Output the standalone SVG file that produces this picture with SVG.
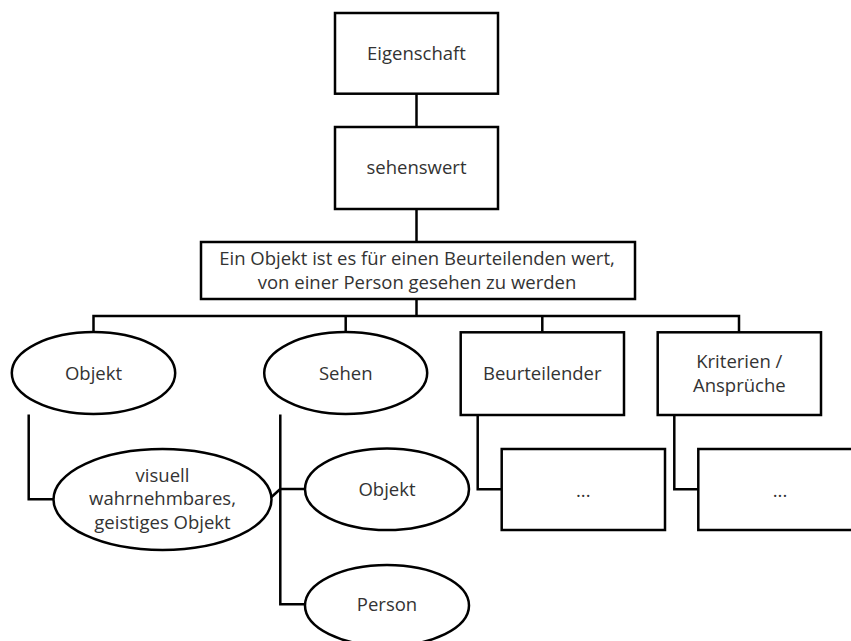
<svg xmlns="http://www.w3.org/2000/svg" width="851" height="641" viewBox="0 0 851 641">
  <style>
    .box { fill: #ffffff; stroke: #000000; stroke-width: 2.5; }
    .link { fill: none; stroke: #000000; stroke-width: 2.5; }
    text { font-family: "Open Sans", "Liberation Sans", Arial, sans-serif; font-size: 18.5px; fill: #333333; text-anchor: middle; }
  </style>
  <rect width="851" height="641" fill="#ffffff"/>

  <g id="connectors">
    <line class="link" x1="416.5" y1="93.7" x2="416.5" y2="127"/>
    <line class="link" x1="416.5" y1="209" x2="416.5" y2="242"/>
    <line class="link" x1="416.5" y1="299" x2="416.5" y2="316"/>
    <polyline class="link" points="93.5,332 93.5,316 739,316 739,332"/>
    <line class="link" x1="345.7" y1="316" x2="345.7" y2="332"/>
    <line class="link" x1="542.3" y1="316" x2="542.3" y2="332"/>
    <polyline class="link" points="28.7,414.5 28.7,499.3 53.3,499.3"/>
    <polyline class="link" points="280.3,414.5 280.3,604.3 305,604.3"/>
    <line class="link" x1="280.3" y1="489" x2="305" y2="489"/>
    <line class="link" x1="271.5" y1="497" x2="280.3" y2="489"/>
    <polyline class="link" points="477.7,415 477.7,489.3 501.7,489.3"/>
    <polyline class="link" points="674.3,415 674.3,489.3 698.3,489.3"/>
  </g>

  <g id="eigenschaft">
    <rect class="box" x="335" y="13" width="163" height="80.7"/>
    <text x="416.5" y="60">Eigenschaft</text>
  </g>
  <g id="sehenswert">
    <rect class="box" x="335" y="127" width="163" height="82"/>
    <text x="416.5" y="174">sehenswert</text>
  </g>
  <g id="definition">
    <rect class="box" x="201" y="242" width="434" height="57"/>
    <text x="417" y="265">Ein Objekt ist es für einen Beurteilenden wert,</text>
    <text x="417" y="288.5">von einer Person gesehen zu werden</text>
  </g>
  <g id="objekt">
    <ellipse class="box" cx="93.5" cy="373" rx="81.7" ry="41"/>
    <text x="93.5" y="380">Objekt</text>
  </g>
  <g id="sehen">
    <ellipse class="box" cx="345.7" cy="373" rx="81.5" ry="41"/>
    <text x="345.7" y="380">Sehen</text>
  </g>
  <g id="beurteilender">
    <rect class="box" x="460.7" y="332.3" width="163.3" height="82.7"/>
    <text x="542.3" y="380">Beurteilender</text>
  </g>
  <g id="kriterien">
    <rect class="box" x="657.7" y="332.3" width="163.3" height="82.7"/>
    <text x="739.3" y="367.7">Kriterien /</text>
    <text x="739.3" y="391.7">Ansprüche</text>
  </g>
  <g id="visuell">
    <ellipse class="box" cx="162.5" cy="499.5" rx="109" ry="50.5"/>
    <text x="162.5" y="481.7">visuell</text>
    <text x="162.5" y="505">wahrnehmbares,</text>
    <text x="162.5" y="528.5">geistiges Objekt</text>
  </g>
  <g id="sehen-objekt">
    <ellipse class="box" cx="387" cy="489.2" rx="82" ry="40.8"/>
    <text x="387" y="495.5">Objekt</text>
  </g>
  <g id="sehen-person">
    <ellipse class="box" cx="387" cy="605.5" rx="82" ry="40.5"/>
    <text x="387" y="611">Person</text>
  </g>
  <g id="beurteilender-detail">
    <rect class="box" x="501.7" y="449" width="163.3" height="81"/>
    <text x="583.3" y="496.7">...</text>
  </g>
  <g id="kriterien-detail">
    <rect class="box" x="698.3" y="449" width="163.3" height="81"/>
    <text x="780" y="496.7">...</text>
  </g>
</svg>
